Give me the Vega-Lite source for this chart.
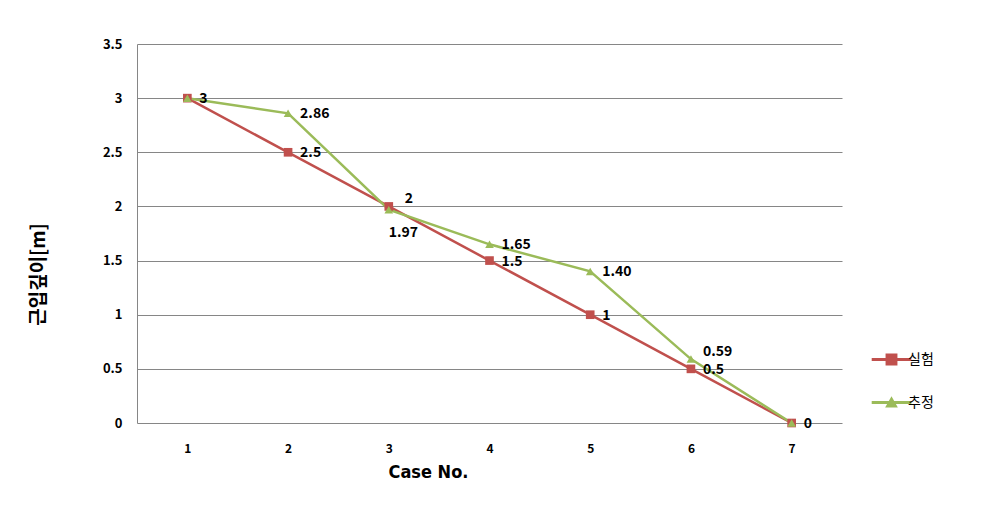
{
  "$schema": "https://vega.github.io/schema/vega-lite/v6.json",
  "width": 705,
  "height": 379,
  "autosize": {"type": "none"},
  "padding": {"left": 137, "top": 44, "right": 147, "bottom": 83},
  "background": "white",
  "config": {"view": {"stroke": null}, "font": "Noto Sans CJK KR"},
  "data": {
    "values": [
      {"case": 1, "series": "실험", "value": 3, "label": "3"},
      {"case": 2, "series": "실험", "value": 2.5, "label": "2.5"},
      {"case": 3, "series": "실험", "value": 2, "label": "2"},
      {"case": 4, "series": "실험", "value": 1.5, "label": "1.5"},
      {"case": 5, "series": "실험", "value": 1, "label": "1"},
      {"case": 6, "series": "실험", "value": 0.5, "label": "0.5"},
      {"case": 7, "series": "실험", "value": 0, "label": "0"},
      {"case": 1, "series": "추정", "value": 3, "label": ""},
      {"case": 2, "series": "추정", "value": 2.86, "label": "2.86"},
      {"case": 3, "series": "추정", "value": 1.97, "label": "1.97"},
      {"case": 4, "series": "추정", "value": 1.65, "label": "1.65"},
      {"case": 5, "series": "추정", "value": 1.4, "label": "1.40"},
      {"case": 6, "series": "추정", "value": 0.59, "label": "0.59"},
      {"case": 7, "series": "추정", "value": 0, "label": ""}
    ]
  },
  "encoding": {
    "x": {
      "field": "case", "type": "ordinal",
      "axis": {
        "title": "Case No.", "labelAngle": 0, "domain": false, "ticks": false, "grid": false,
        "labelPadding": 20, "labelFont": "Noto Sans CJK KR", "labelFontWeight": "bold", "labelFontSize": 12, "labelColor": "#000000",
        "titleFont": "'Liberation Sans Narrow', 'DejaVu Sans Condensed', Roboto, sans-serif", "titleFontSize": 18, "titleFontWeight": "bold", "titleColor": "#000000",
        "titleX": 291, "titleY": 40, "titleAlign": "center", "titleBaseline": "top"
      }
    },
    "y": {
      "field": "value", "type": "quantitative",
      "scale": {"domain": [0, 3.5], "nice": false, "zero": true},
      "axis": {
        "title": "근입깊이[m]", "values": [0, 0.5, 1, 1.5, 2, 2.5, 3, 3.5], "format": "~g",
        "ticks": false, "domain": true, "domainColor": "#868686", "gridColor": "#868686", "gridWidth": 1, "gridOpacity": 1,
        "labelPadding": 15, "labelFont": "Noto Sans CJK KR", "labelFontWeight": "bold", "labelFontSize": 13, "labelColor": "#000000",
        "titleFont": "Noto Sans CJK KR", "titleFontSize": 19, "titleFontWeight": "bold", "titleColor": "#000000",
        "titleX": -89, "titleY": 230, "titleAlign": "center", "titleBaseline": "bottom", "titleAngle": -90
      }
    }
  },
  "layer": [
    {
      "mark": {"type": "line", "strokeWidth": 2.5},
      "encoding": {
        "color": {
          "field": "series", "type": "nominal",
          "scale": {"domain": ["실험", "추정"], "range": ["#C0504D", "#9BBB59"]},
          "legend": {
            "title": null, "orient": "none", "legendX": 740, "legendY": 301,
            "labelFontSize": 14, "labelFont": "Noto Sans CJK KR", "labelColor": "#000000",
            "symbolSize": 800, "rowPadding": 21, "labelOffset": 2,
            "encode": {
              "symbols": {
                "update": {
                  "shape": {"signal": "datum.value == '실험' ? 'M-1.4,-0.1H1.4V0.1H-1.4ZM-0.42,-0.42H0.42V0.42H-0.42Z' : 'M-1.4,-0.1H1.4V0.1H-1.4ZM0,-0.45L0.45,0.35H-0.45Z'"},
                  "fill": {"scale": "color", "field": "value"},
                  "stroke": {"value": "transparent"},
                  "strokeWidth": {"value": 0},
                  "opacity": {"value": 1}
                }
              }
            }
          }
        }
      }
    },
    {
      "transform": [{"filter": "datum.series == '실험'"}],
      "mark": {"type": "point", "filled": true, "opacity": 1, "shape": "square", "size": 75, "color": "#C0504D"}
    },
    {
      "transform": [{"filter": "datum.series == '추정'"}],
      "mark": {"type": "point", "filled": true, "opacity": 1, "shape": "triangle-up", "size": 75, "color": "#9BBB59"}
    },
    {
      "transform": [{"filter": "datum.label != '' && datum.case != 3 && !(datum.series == '추정' && datum.case == 6)"}],
      "mark": {"type": "text", "align": "left", "baseline": "middle", "dx": 12, "dy": 1, "fontSize": 14, "fontWeight": "bold", "font": "Noto Sans CJK KR", "color": "#000000"},
      "encoding": {"text": {"field": "label"}}
    },
    {
      "transform": [{"filter": "datum.series == '실험' && datum.case == 3"}],
      "mark": {"type": "text", "align": "left", "baseline": "middle", "dx": 16, "dy": -7, "fontSize": 14, "fontWeight": "bold", "font": "Noto Sans CJK KR", "color": "#000000"},
      "encoding": {"text": {"field": "label"}}
    },
    {
      "transform": [{"filter": "datum.series == '추정' && datum.case == 3"}],
      "mark": {"type": "text", "align": "left", "baseline": "middle", "dx": 0, "dy": 23, "fontSize": 14, "fontWeight": "bold", "font": "Noto Sans CJK KR", "color": "#000000"},
      "encoding": {"text": {"field": "label"}}
    },
    {
      "transform": [{"filter": "datum.series == '추정' && datum.case == 6"}],
      "mark": {"type": "text", "align": "left", "baseline": "middle", "dx": 12, "dy": -7, "fontSize": 14, "fontWeight": "bold", "font": "Noto Sans CJK KR", "color": "#000000"},
      "encoding": {"text": {"field": "label"}}
    }
  ]
}
